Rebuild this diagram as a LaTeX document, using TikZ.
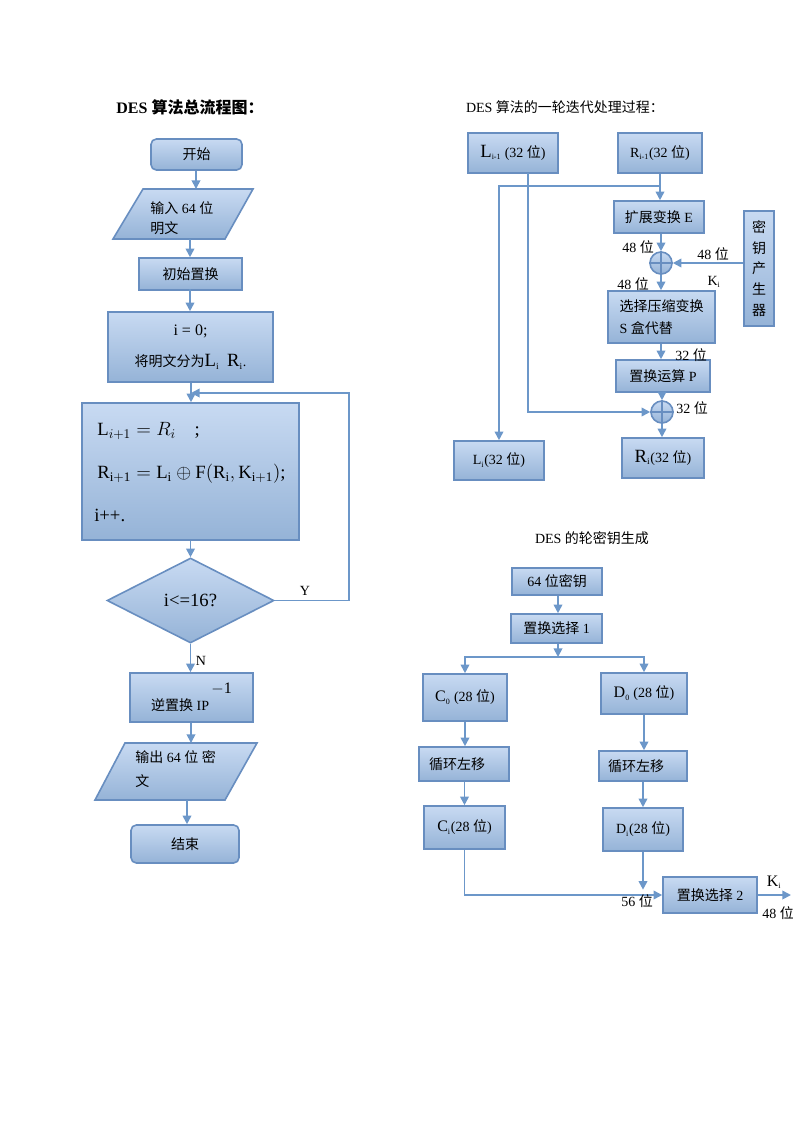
\documentclass[tikz,border=0pt]{standalone}
\usepackage{fontspec}
\setmainfont{Liberation Serif}
\newfontfamily\cjk{Noto Sans CJK SC}
\newcommand\zh[1]{{\cjk #1}}
\usepackage{tikz}
\usetikzlibrary{positioning}
\usetikzlibrary{shapes.geometric,arrows.meta}

\definecolor{boxtop}{RGB}{200,218,242}
\definecolor{boxbot}{RGB}{149,179,215}
\definecolor{bdr}{RGB}{104,142,192}
\definecolor{ln}{RGB}{108,151,201}

\tikzset{
  bw/.style={minimum width=#1*0.75pt},
  bh/.style={minimum height=#1*0.75pt},
  blk/.style={draw=bdr, line width=1.2pt, top color=boxtop, bottom color=boxbot, inner sep=1pt,
    font=\fontsize{10.5}{14}\selectfont},
  pgram/.style={draw=bdr, line width=1.2pt, top color=boxtop, bottom color=boxbot},
  arr/.style={draw=ln, line width=1.3pt, -{Triangle[length=6.5pt,width=6.5pt]}},
  lab/.style={font=\fontsize{10.5}{12}\selectfont, inner sep=0pt}
}

\begin{document}
\begin{tikzpicture}[x=0.75pt, y=-0.75pt]
\useasboundingbox (0,0) rectangle (793,1122);

% overall flow
\node[font=\fontsize{12}{14}\selectfont\bfseries] (t1) at (190,107) {DES \zh{算法总流程图：}};
\node[blk, rounded corners=4pt, bw=91, bh=31] (start) at (196.5,154.5) {\zh{开始}};
\path[pgram] (143,189) -- (253,189) -- (225,239) -- (113,239) -- cycle;
\coordinate (in-t) at (196,189);
\coordinate (in-b) at (190,239);
\node[lab, anchor=west, align=left, font=\fontsize{10.5}{15}\selectfont] (in) at (150,218) {\zh{输入} 64 \zh{位}\\\zh{明文}};
\node[blk, bw=103, bh=32] (init) at (190.5,274) {\zh{初始置换}};
\node[blk, bw=165, bh=70, align=center] (zero) at (190.5,347)
  {{\fontsize{12}{14}\selectfont i = 0;}\\[9pt]\zh{将明文分为}{\fontsize{14}{14}\selectfont L\textsubscript{\fontsize{7}{7}\selectfont i} \,R\textsubscript{\fontsize{7}{7}\selectfont i}}.};
\node[blk, bw=217, bh=137] (round) at (190.5,471.5) {};
\node[lab, anchor=west, align=left, font=\fontsize{14}{32}\selectfont] (rtext) at (94,472)
  {\,$\mathrm{L}_{i+1}=R_i$\quad ;\\
   \,$\mathrm{R}_{\mathrm{i+1}}=\mathrm{L}_{\mathrm{i}}\oplus\mathrm{F}(\mathrm{R}_{\mathrm{i}},\mathrm{K}_{\mathrm{i+1}})$;\\
   i++.};
\node[blk, diamond, bw=167, bh=85, inner sep=0pt, font=\fontsize{14}{16}\selectfont] (dia) at (190.5,600.5) {i<=16?};
\node[blk, bw=123, bh=49] (inv) at (191.5,697.5) {\raisebox{-6pt}{\zh{逆置换} IP}\raisebox{7pt}{\,\fontsize{12}{12}\selectfont$-$1}};
\path[pgram] (125,743) -- (257,743) -- (225,800) -- (95,800) -- cycle;
\coordinate (out-t) at (191,743);
\coordinate (out-b) at (187,800);
\node[lab, anchor=west, align=left, font=\fontsize{10.5}{18}\selectfont] (out) at (135,769) {\zh{输出} 64 \zh{位} \zh{密}\\\zh{文}};
\node[blk, rounded corners=4pt, bw=108, bh=38] (end) at (185,844) {\zh{结束}};
\coordinate (loopin) at (191,393);

\draw[arr] (start.south -| in-t) -- (in-t);
\draw[arr] (in-b) -- (init.north -| in-b);
\draw[arr] (init.north -| in-b) ++(0,32) -- (zero.north -| in-b);
\draw[arr] (zero.south -| loopin) -- (round.north -| loopin);
\draw[arr] (round.south -| dia.north) -- (dia.north);
\draw[arr] (dia.east) -- ++(74,0) |- (loopin);
\node[lab] (y) at (305,591) {Y};
\draw[arr] (dia.south) -- (inv.north -| dia.south);
\node[lab] (n) at (201,661) {N};
\draw[arr] (inv.south -| out-t) -- (out-t);
\draw[arr] (out-b) -- (end.north -| out-b);

% one round
\node[lab, font=\fontsize{10.5}{12}\selectfont] (t2) at (565,107) {DES \zh{算法的一轮迭代处理过程：}};
\node[blk, bw=90, bh=40] (Lprev) at (513,153) {{\fontsize{14}{14}\selectfont L}\textsubscript{\fontsize{6}{6}\selectfont i-1} (32 \zh{位})};
\node[blk, bw=84, bh=40] (Rprev) at (660,153) {R\textsubscript{\fontsize{6}{6}\selectfont i-1}(32 \zh{位})};
\node[blk, bw=90, bh=32] (E) at (659,217) {\zh{扩展变换} E};
\node[blk, circle, bw=22, bh=22, inner sep=0pt] (x1) at (661,263) {};
\draw[draw=bdr, line width=1pt] (x1.north) -- (x1.south) (x1.west) -- (x1.east);
\node[blk, bw=30, bh=115, align=center, font=\fontsize{10.5}{15.5}\selectfont\cjk] (keygen) at (759,268.5) {密\\钥\\产\\生\\器};
\node[blk, bw=107, bh=52, align=left, font=\fontsize{10.5}{16}\selectfont] (S) at (661.5,317) {\zh{选择压缩变换}\\S \zh{盒代替}\hphantom{\zh{变换}}};
\node[blk, bw=94, bh=32] (P) at (663,376) {\zh{置换运算} P};
\node[blk, circle, bw=22, bh=22, inner sep=0pt] (x2) at (662,412) {};
\draw[draw=bdr, line width=1pt] (x2.north) -- (x2.south) (x2.west) -- (x2.east);
\node[blk, bw=82, bh=40] (Ri) at (663,458) {{\fontsize{14}{14}\selectfont R}\textsubscript{\fontsize{7}{7}\selectfont i}(32 \zh{位})};
\node[blk, bw=90, bh=39] (Li) at (499,460.5) {L\textsubscript{\fontsize{6}{6}\selectfont i}(32 \zh{位})};
\coordinate (rsplit) at (660,186);
\coordinate (lsplit) at (528,173);

\draw[arr] (Rprev.south) -- (E.north -| Rprev.south);
\draw[arr] (rsplit) -| (Li.north);
\draw[arr] (lsplit) |- (x2.west);
\draw[arr] (E.south -| x1.north) -- (x1.north);
\draw[arr] (keygen.west |- x1.east) -- (x1.east);
\draw[arr] (x1.south) -- (S.north -| x1.south);
\draw[arr] (S.south -| x1.south) -- (P.north -| x1.south);
\draw[arr] (P.south -| x2.north) -- (x2.north);
\draw[arr] (x2.south) -- (Ri.north -| x2.south);
\node[lab] (b1) at (638,247) {48 \zh{位}};
\node[lab] (b2) at (713,254) {48 \zh{位}};
\node[lab] (b3) at (633,284) {48 \zh{位}};
\node[lab] (k1) at (714,282) {K\textsubscript{\fontsize{6}{6}\selectfont i}};
\node[lab] (b4) at (691,355) {32 \zh{位}};
\node[lab] (b5) at (692,408) {32 \zh{位}};

% round keys
\node[lab] (t3) at (592,538) {DES \zh{的轮密钥生成}};
\node[blk, bw=90, bh=27] (k64) at (557,581.5) {64 \zh{位密钥}};
\node[blk, bw=91, bh=29] (pc1) at (556.5,628.5) {\zh{置换选择} 1};
\node[blk, bw=84, bh=47] (C0) at (465,697.5) {{\fontsize{12}{12}\selectfont C}\textsubscript{\fontsize{6}{6}\selectfont 0} (28 \zh{位})};
\node[blk, bw=86, bh=41] (D0) at (644,693.5) {{\fontsize{12}{12}\selectfont D}\textsubscript{\fontsize{6}{6}\selectfont 0} (28 \zh{位})};
\node[blk, bw=90, bh=34] (rotC) at (464,764) {\zh{循环左移}\hphantom{00}};
\node[blk, bw=88, bh=30] (rotD) at (643,766) {\zh{循环左移}\hphantom{00}};
\node[blk, bw=81, bh=43] (Ci) at (464.5,827.5) {{\fontsize{12}{12}\selectfont C}\textsubscript{\fontsize{6}{6}\selectfont i}(28 \zh{位})};
\node[blk, bw=80, bh=43] (Di) at (643,829.5) {D\textsubscript{\fontsize{6}{6}\selectfont i}(28 \zh{位})};
\node[blk, bw=94, bh=36] (pc2) at (710,895) {\zh{置换选择} 2};
\coordinate (ksplit) at (558,657);
\coordinate (kout) at (791,895);

\draw[arr] (k64.south -| ksplit) -- (pc1.north -| ksplit);
\draw[arr] (pc1.south -| ksplit) -- (ksplit);
\draw[arr] (ksplit) -| (C0.north);
\draw[arr] (ksplit) -| (D0.north);
\draw[arr] (C0.south) -- (rotC.north -| C0.south);
\draw[arr] (rotC.south -| Ci.north) -- (Ci.north);
\draw[arr] (D0.south) -- (rotD.north -| D0.south);
\draw[arr] (rotD.south -| Di.north) -- (Di.north);
\draw[arr] (Ci.south) |- (pc2.west);
\draw[arr, shorten >=4pt] (Di.south) -- (Di.south |- pc2.west);
\draw[arr] (pc2.east) -- (kout);
\node[lab] (b6) at (637,901) {56 \zh{位}};
\node[lab, font=\fontsize{12}{12}\selectfont] (k2) at (774,882) {K\textsubscript{\fontsize{6}{6}\selectfont i}};
\node[lab] (b7) at (778,913) {48 \zh{位}};
\end{tikzpicture}
\end{document}
